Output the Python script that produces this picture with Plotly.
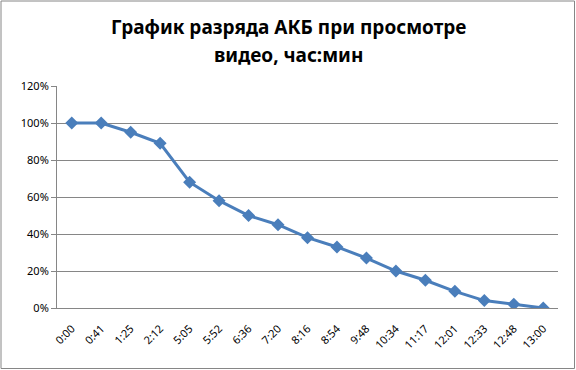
import plotly.graph_objects as go

times = ["0:00", "0:41", "1:25", "2:12", "5:05", "5:52", "6:36", "7:20", "8:16",
         "8:54", "9:48", "10:34", "11:17", "12:01", "12:33", "12:48", "13:00"]
charge = [1.00, 1.00, 0.95, 0.89, 0.68, 0.58, 0.50, 0.45, 0.38,
          0.33, 0.27, 0.20, 0.15, 0.09, 0.04, 0.02, 0.00]
title_lines = ["График разряда АКБ при просмотре", "видео, час:мин"]

W, H = 576, 370
L, R, T, B = 57, 18, 86, 62
pw, ph = W - L - R, H - T - B

fig = go.Figure(go.Scatter(
    x=list(range(len(times))), y=charge, mode="lines+markers",
    line=dict(color="#4A7EBB", width=3),
    marker=dict(symbol="diamond", size=10, color="#4A7EBB"),
))

def px2paper_x(p):
    return (p - L) / pw

def px2paper_y(p):
    return (H - B - p) / ph

fig.add_shape(type="rect", xref="paper", yref="paper",
              x0=px2paper_x(1), x1=px2paper_x(W - 1.5),
              y0=px2paper_y(H - 1.5), y1=px2paper_y(1),
              line=dict(color="#868686", width=1), layer="below")

for i, (txt, cy) in enumerate(zip(title_lines, [27, 55])):
    fig.add_annotation(text=txt, xref="paper", yref="paper",
                       x=px2paper_x(288), y=px2paper_y(cy),
                       xanchor="center", yanchor="middle", showarrow=False,
                       font=dict(family="Noto Sans, DejaVu Sans", size=19,
                                 color="black", weight="bold"))

fig.update_layout(
    width=W, height=H,
    margin=dict(l=L, r=R, t=T, b=B),
    paper_bgcolor="white", plot_bgcolor="white",
    showlegend=False,
    font=dict(family="Noto Sans, DejaVu Sans", size=11, color="black"),
)
fig.update_xaxes(
    tickmode="array", tickvals=list(range(len(times))), ticktext=times,
    range=[-0.5, len(times) - 0.5], tickangle=-45,
    showgrid=False, showline=True, linecolor="#868686", linewidth=1,
    ticks="", zeroline=False, tickfont=dict(size=11), ticklabelstandoff=9,
)
fig.update_yaxes(
    range=[0, 1.2], tickvals=[0, 0.2, 0.4, 0.6, 0.8, 1.0, 1.2], tickformat=".0%",
    showgrid=True, gridcolor="#868686", gridwidth=1,
    showline=True, linecolor="#868686", linewidth=1,
    ticks="outside", ticklen=5, tickcolor="#868686",
    zeroline=False, tickfont=dict(size=11),
)

fig.write_html("out.html")
